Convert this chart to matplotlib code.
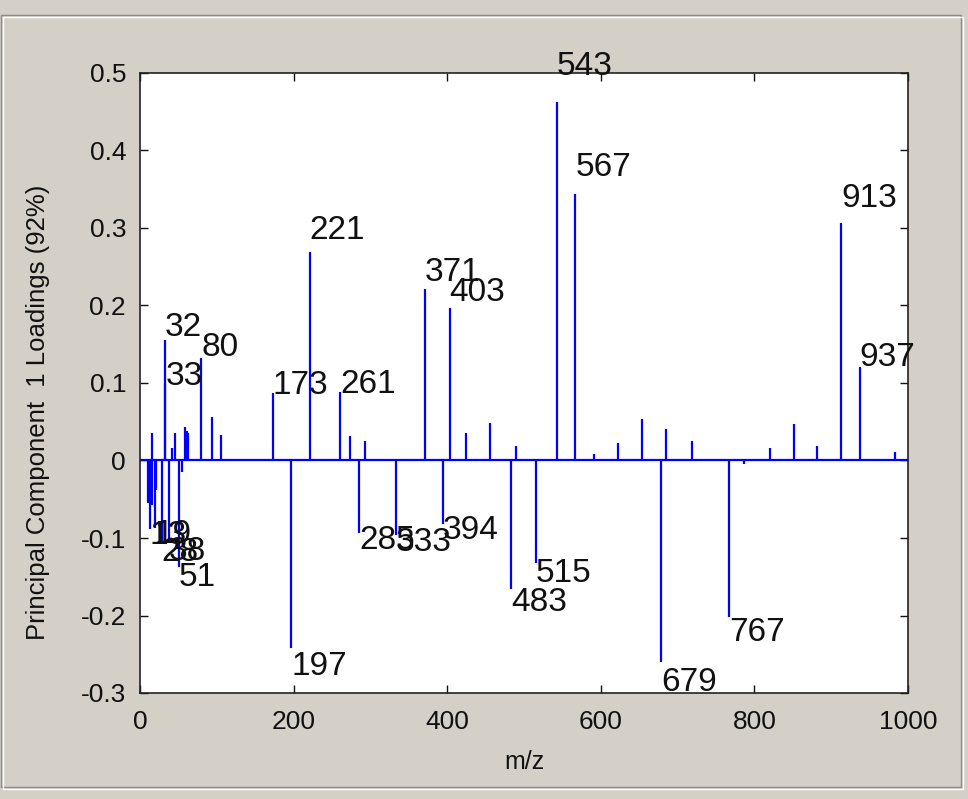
import matplotlib
matplotlib.use("Agg")
import matplotlib.pyplot as plt
from matplotlib.patches import Rectangle

# m/z channels and their loadings on principal component 1
mz = [11, 13, 15, 15, 19, 21, 28, 32, 33, 38, 42, 46, 51, 55, 59, 61, 63, 80, 94, 105,
      173, 197, 221, 261, 274, 285, 293, 333, 371, 394, 403, 424, 456, 483, 490,
      515, 543, 567, 591, 623, 654, 679, 685, 719, 767, 786, 820, 851, 882, 913,
      937, 983]
loadings = [-0.055, -0.088, -0.058, 0.036, -0.087, -0.038, -0.108, 0.156, 0.099, -0.107,
            0.016, 0.036, -0.137, -0.015, 0.043, 0.038, 0.036, 0.132, 0.0565, 0.033,
            0.0875, -0.242, 0.2695, 0.0888, 0.0316, -0.094, 0.0256, -0.096, 0.221, -0.082,
            0.197, 0.036, 0.049, -0.166, 0.0187, -0.132, 0.462, 0.344, 0.009, 0.022,
            0.053, -0.260, 0.041, 0.025, -0.202, -0.004, 0.0157, 0.0467, 0.0187, 0.307,
            0.121, 0.0114]

# peaks that carry an m/z annotation
labelled = [13, 19, 28, 32, 33, 38, 51, 80, 173, 197, 221, 261, 285, 333, 371, 394,
            403, 483, 515, 543, 567, 679, 767, 913, 937]

xticks = [0, 200, 400, 600, 800, 1000]
yticks = [-0.3, -0.2, -0.1, 0, 0.1, 0.2, 0.3, 0.4, 0.5]
ytick_labels = ["-0.3", "-0.2", "-0.1", "0", "0.1", "0.2", "0.3", "0.4", "0.5"]

BG = "#d4d0c8"
narrow = ["Liberation Sans Narrow", "Liberation Sans", "DejaVu Sans"]
regular = ["Liberation Sans", "DejaVu Sans"]

fig = plt.figure(figsize=(9.68, 7.99), dpi=100, facecolor=BG)

# etched window frame
W, H = 968, 799
fig.patches.append(Rectangle((1 / W, 12 / H), 960 / W, 772 / H, transform=fig.transFigure,
                             fill=False, edgecolor="#8c8a86", linewidth=1.0))
fig.patches.append(Rectangle((2.5 / W, 10.5 / H), 960 / W, 772 / H, transform=fig.transFigure,
                             fill=False, edgecolor="#ffffff", linewidth=1.0))

ax = fig.add_axes([140 / W, 106 / H, 768 / W, 620 / H], facecolor="white")
ax.set_xlim(0, 1000)
ax.set_ylim(-0.3, 0.5)

ax.axhline(0, color="#0000ff", linewidth=1.6, zorder=2)
ax.vlines(mz, 0, loadings, color="#0000ff", linewidth=1.6, zorder=2)

lookup = dict()
for m, v in zip(mz, loadings):
    if m in labelled and m not in lookup:
        lookup[m] = v
for m in labelled:
    ax.text(m, 1.1 * lookup[m], str(m), ha="left", va="center", fontsize=24,
            family=regular, color="#111111", clip_on=False, zorder=3)

ax.set_xticks(xticks)
ax.set_xticklabels([str(t) for t in xticks])
ax.set_yticks(yticks)
ax.set_yticklabels(ytick_labels)
ax.tick_params(direction="in", length=6, width=1.0, top=True, right=True,
               labelsize=19, colors="#111111")
ax.tick_params(axis="x", pad=12)
ax.tick_params(axis="y", pad=10)
for lab in ax.get_xticklabels() + ax.get_yticklabels():
    lab.set_family(narrow)
for s in ax.spines.values():
    s.set_linewidth(1.2)
    s.set_color("#222222")

ax.set_xlabel("m/z", fontsize=18, family=narrow, color="#111111")
ax.xaxis.set_label_coords(0.5, (693 - 750) / 620)
ax.set_ylabel("Principal Component  1 Loadings (92%)", fontsize=18.5, family=narrow,
              color="#111111")
ax.yaxis.set_label_coords((50 - 140) / 768, (693 - 412) / 620)

fig.savefig("out.png", dpi=100, facecolor=BG)
